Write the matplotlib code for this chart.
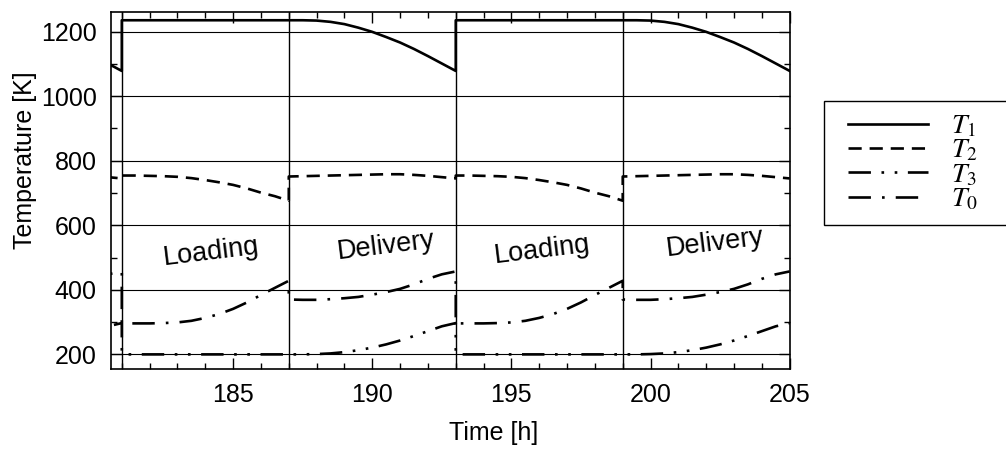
import matplotlib.pyplot as plt
import numpy as np
from matplotlib.legend_handler import HandlerLine2D
from matplotlib.lines import Line2D

plt.rcParams["font.family"] = ["Liberation Sans", "DejaVu Sans"]
plt.rcParams["mathtext.fontset"] = "stix"

# hours elapsed inside one 6 h phase
t_phase = [0, 0.5, 1, 1.5, 2, 2.5, 3, 3.5, 4, 4.5, 5, 5.5, 6]

# temperatures [K] during loading
T1_load = [1235, 1235, 1235, 1235, 1235, 1235, 1235, 1235, 1235, 1235, 1235, 1235, 1235]
T2_load = [754, 754, 753, 752, 750, 746, 740, 733, 725, 714, 701, 690, 676]
T3_load = [200, 200, 200, 200, 200, 200, 200, 200, 200, 200, 200, 200, 200]
T0_load = [296, 296, 296, 297, 299, 304, 313, 325, 341, 361, 384, 406, 428]

# temperatures [K] during delivery
T1_deliv = [1235, 1235, 1234, 1230, 1223, 1212, 1199, 1183, 1166, 1146, 1124, 1101, 1078]
T2_deliv = [751, 752, 753, 754, 755, 756, 757, 758, 758, 756, 753, 749, 745]
T3_deliv = [200, 200, 201, 203, 207, 213, 221, 231, 243, 257, 272, 287, 297]
T0_deliv = [370, 369, 369, 371, 374, 378, 385, 393, 403, 417, 434, 448, 457]

# start time [h] of each phase, in order
phase_starts = [175, 181, 187, 193, 199]
phase_kind = ["deliv", "load", "deliv", "load", "deliv"]
switch_times = [181, 187, 193, 199]

phase_labels = ["Loading", "Delivery", "Loading", "Delivery"]
label_t = [184.2, 190.5, 196.1, 202.3]
label_T = [518, 536, 524, 545]

profiles = {
    "T1": (T1_load, T1_deliv),
    "T2": (T2_load, T2_deliv),
    "T3": (T3_load, T3_deliv),
    "T0": (T0_load, T0_deliv),
}


def series(name):
    load, deliv = profiles[name]
    t, T = [], []
    for start, kind in zip(phase_starts, phase_kind):
        t.extend(start + np.array(t_phase))
        T.extend(load if kind == "load" else deliv)
    return np.array(t), np.array(T)


fig = plt.figure(figsize=(10.06, 4.51), dpi=100)
ax = fig.add_axes([0.110, 0.182, 0.675, 0.791])

styles = {
    "T1": "-",
    "T2": (0, (5, 3)),
    "T3": (0, (8.5, 4, 1, 4, 1, 4)),
    "T0": (0, (8.5, 4.2, 1, 4.2)),
}
for name in ["T1", "T2", "T3", "T0"]:
    t, T = series(name)
    ax.plot(t, T, color="k", lw=1.9, linestyle=styles[name],
            label=r"$T_{%s}$" % name[1])

for ts in switch_times:
    ax.axvline(ts, color="k", lw=1.0)

ax.yaxis.grid(True, color="k", lw=0.8)
ax.set_axisbelow(True)

for txt, t, T in zip(phase_labels, label_t, label_T):
    ax.text(t, T, txt, rotation=7, ha="center", va="center", fontsize=19.5)

ax.set_xlim(180.6, 205)
ax.set_ylim(155, 1260)
ax.set_xticks([185, 190, 195, 200, 205])
ax.set_xticks(np.arange(181, 205, 1), minor=True)
ax.set_yticks([200, 400, 600, 800, 1000, 1200])
ax.set_yticks(np.arange(200, 1300, 100), minor=True)
ax.tick_params(which="both", direction="in", top=True, right=True,
               labelsize=18, pad=10, width=1)
ax.tick_params(which="major", length=8)
ax.tick_params(which="minor", length=4)
for sp in ax.spines.values():
    sp.set_linewidth(1.2)

ax.set_xlabel("Time [h]", fontsize=18)
ax.set_ylabel("Temperature [K]", fontsize=18)
ax.xaxis.set_label_coords(0.564, -0.145)
ax.yaxis.set_label_coords(-0.109, 0.585)

leg = ax.legend(loc="upper left", bbox_to_anchor=(1.05, 0.40, 0.4, 0.351),
                mode="expand", borderaxespad=0, fontsize=20, frameon=True,
                fancybox=False, edgecolor="k", framealpha=1,
                handlelength=3.3, handletextpad=0.82, borderpad=0.45,
                labelspacing=-0.06,
                handler_map={Line2D: HandlerLine2D(xpad=0.44)})
leg.get_frame().set_linewidth(1.0)

fig.savefig("out.png", dpi=100)
